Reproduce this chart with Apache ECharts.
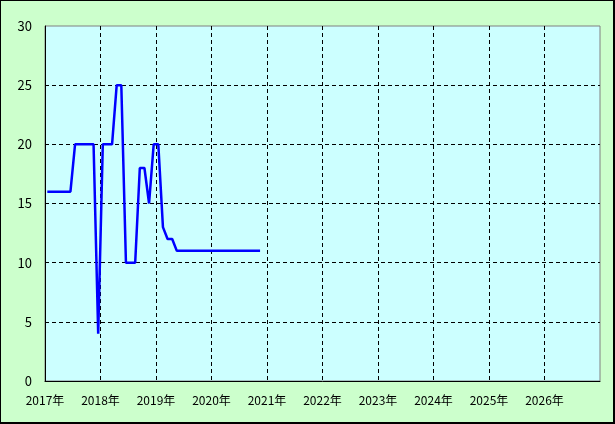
<!DOCTYPE html>
<html><head><meta charset="utf-8">
<script src="https://cdn.jsdelivr.net/npm/echarts@6/dist/echarts.min.js"></script>
<style>
html,body{margin:0;padding:0;}
#wrap{position:relative;width:615px;height:424px;background:#000;}
#chart{position:absolute;left:1px;top:1px;width:612px;height:421px;}
</style></head>
<body><div id="wrap"><div id="chart"></div></div>
<script>
// Monthly data (month strings) and values
const months = [
 '2017-01','2017-02','2017-03','2017-04','2017-05','2017-06','2017-07','2017-08','2017-09','2017-10','2017-11','2017-12',
 '2018-01','2018-02','2018-03','2018-04','2018-05','2018-06','2018-07','2018-08','2018-09','2018-10','2018-11','2018-12',
 '2019-01','2019-02','2019-03','2019-04','2019-05','2019-06','2019-07','2019-08','2019-09','2019-10','2019-11','2019-12',
 '2020-01','2020-02','2020-03','2020-04','2020-05','2020-06','2020-07','2020-08','2020-09','2020-10','2020-11'
];
const values = [
 16,16,16,16,16,16,20,20,20,20,20,4,
 20,20,20,25,25,10,10,10,18,18,15,20,
 20,13,12,12,11,11,11,11,11,11,11,11,
 11,11,11,11,11,11,11,11,11,11,11
];
const yearTicks = [2017,2018,2019,2020,2021,2022,2023,2024,2025,2026,2027];
const yTicks = [0,5,10,15,20,25,30];

function toYear(m){ const p=m.split('-'); return +p[0] + (+p[1]-0.5)/12; }
const seriesData = months.map((m,i)=>[toYear(m), values[i]]);

const chart = echarts.init(document.getElementById('chart'));
const font = '"Noto Sans CJK JP", "DejaVu Sans", sans-serif';
chart.setOption({
  backgroundColor:'#CCFFCC',
  animation:false,
  grid:{left:44, top:25, width:555, height:355, show:true, backgroundColor:'#CCFFFF', borderColor:'#808080', borderWidth:1},
  xAxis:{
    type:'value', min:yearTicks[0], max:yearTicks[yearTicks.length-1], interval:1,
    axisLine:{show:true, onZero:false, lineStyle:{color:'#000', width:1}},
    axisTick:{show:false},
    axisLabel:{color:'#000', fontSize:12, fontFamily:font, margin:13, showMaxLabel:false,
      formatter:v=> v+'年'},
    splitLine:{show:true, showMinLine:false, showMaxLine:false, lineStyle:{color:'#000', type:[4,3], width:1}}
  },
  yAxis:{
    type:'value', min:yTicks[0], max:yTicks[yTicks.length-1], interval:5,
    axisLine:{show:true, lineStyle:{color:'#000', width:1}},
    axisTick:{show:false},
    axisLabel:{color:'#000', fontSize:13, fontFamily:font, margin:13},
    splitLine:{show:true, showMinLine:false, showMaxLine:false, lineStyle:{color:'#000', type:[4,3], width:1}}
  },
  series:[{type:'line', data:seriesData, symbol:'none', lineStyle:{color:'#0000FF', width:2.5}}]
});
</script></body></html>
